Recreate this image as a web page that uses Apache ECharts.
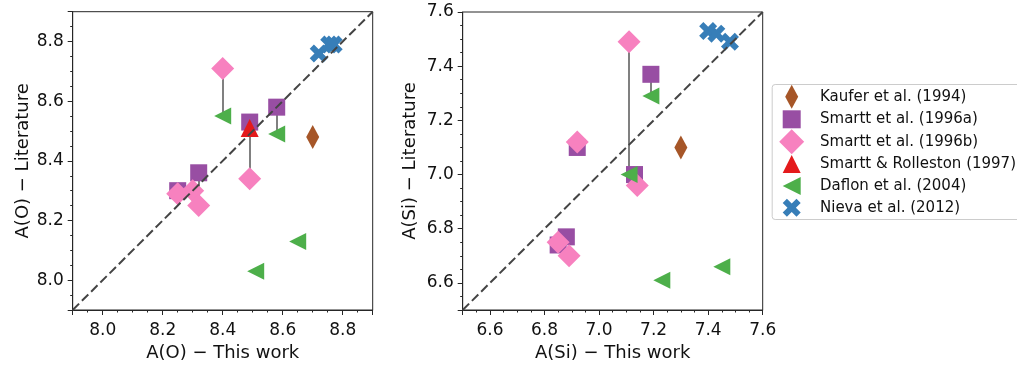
<!DOCTYPE html>
<html>
<head>
<meta charset="utf-8">
<script src="https://cdn.jsdelivr.net/npm/echarts@6/dist/echarts.min.js"></script>
<style>
  html, body { margin: 0; padding: 0; background: #fff; }
  #chart { width: 1017px; height: 367px; }
</style>
</head>
<body>
<div id="chart"></div>
<script>
// Oxygen abundances, pairs of [this work, literature]
const oRange = [7.9, 8.9];
const oKaufer = [[8.70, 8.48]];
const oSmarttA = [[8.25, 8.30], [8.32, 8.36], [8.49, 8.53], [8.58, 8.58]];
const oSmarttB = [[8.40, 8.71], [8.49, 8.34], [8.25, 8.29], [8.30, 8.30], [8.32, 8.25]];
const oSmarttRolleston = [[8.49, 8.51]];
const oDaflon = [[8.40, 8.55], [8.58, 8.49], [8.65, 8.13], [8.51, 8.03]];
const oNieva = [[8.72, 8.76], [8.755, 8.79], [8.77, 8.79]];
// Stars with two literature values: [this work, literature 1, literature 2]
const oLinks = [[8.40, 8.71, 8.55], [8.58, 8.58, 8.49], [8.49, 8.53, 8.34], [8.32, 8.36, 8.25]];

// Silicon abundances, pairs of [this work, literature]
const siRange = [6.5, 7.6];
const siKaufer = [[7.30, 7.10]];
const siSmarttA = [[6.85, 6.74], [6.88, 6.77], [6.92, 7.10], [7.13, 7.00], [7.19, 7.37]];
const siSmarttB = [[7.11, 7.49], [6.92, 7.12], [7.14, 6.96], [6.85, 6.75], [6.89, 6.70]];
const siSmarttRolleston = [];
const siDaflon = [[7.19, 7.29], [7.11, 7.00], [7.23, 6.61], [7.45, 6.66]];
const siNieva = [[7.40, 7.53], [7.43, 7.52], [7.48, 7.49]];
const siLinks = [[7.11, 7.49, 7.00], [7.19, 7.37, 7.29]];

const studyNames = ['Kaufer et al. (1994)', 'Smartt et al. (1996a)', 'Smartt et al. (1996b)',
  'Smartt & Rolleston (1997)', 'Daflon et al. (2004)', 'Nieva et al. (2012)'];
const tickStep = 0.2;
const minorStep = 0.05;

const FONT = 'DejaVu Sans';
const INK = '#262626';
const X_PATH = 'path://M0,2.8L2.8,0L6,3.2L9.2,0L12,2.8L8.8,6L12,9.2L9.2,12L6,8.8L2.8,12L0,9.2L3.2,6Z';

// marker look for each study (iconW/iconH: legend icon size)
const styles = [
  { color: '#a65628', symbol: 'diamond', size: [13, 24], icon: 'path://M0,-12L6.5,0L0,12L-6.5,0Z', iconW: 13, iconH: 24 },
  { color: '#984ea3', symbol: 'rect', size: 17, icon: 'path://M0,0H10V10H0Z', iconW: 18, iconH: 18 },
  { color: '#f781bf', symbol: 'diamond', size: 23, icon: 'path://M0,-1L1,0L0,1L-1,0Z', iconW: 25, iconH: 25 },
  { color: '#e41a1c', symbol: 'triangle', size: 18, icon: 'path://M0,-1L1,1L-1,1Z', iconW: 18, iconH: 18 },
  { color: '#4daf4a', symbol: 'triangle', rotate: 90, size: 17, icon: 'path://M-1,0L1,-1L1,1Z', iconW: 18, iconH: 18 },
  { color: '#377eb8', symbol: X_PATH, size: 18, icon: X_PATH, iconW: 18, iconH: 18 }
];

const panels = [
  { range: oRange, sets: [oKaufer, oSmarttA, oSmarttB, oSmarttRolleston, oDaflon, oNieva], links: oLinks,
    xName: 'A(O) \u2212 This work', yName: 'A(O) \u2212 Literature', yGap: 37 },
  { range: siRange, sets: [siKaufer, siSmarttA, siSmarttB, siSmarttRolleston, siDaflon, siNieva], links: siLinks,
    xName: 'A(Si) \u2212 This work', yName: 'A(Si) \u2212 Literature', yGap: 43 }
];

const grids = [
  { left: 72.7, top: 11.7, width: 300, height: 300 },
  { left: 462.7, top: 12, width: 300, height: 300 }
].map(g => Object.assign(g, { show: true, borderColor: INK, borderWidth: 1, backgroundColor: 'transparent' }));

function majorLabel(v) {
  const k = v / tickStep;
  return Math.abs(k - Math.round(k)) < 1e-6 ? v.toFixed(1) : '';
}

const xAxes = [], yAxes = [], series = [];
panels.forEach((p, i) => {
  const common = { type: 'value', gridIndex: i, min: p.range[0], max: p.range[1], splitLine: { show: false } };
  // major ticks and labels
  xAxes.push(Object.assign({}, common, {
    position: 'bottom', splitNumber: 5,
    axisLine: { show: true, lineStyle: { color: INK, width: 1 } },
    axisTick: { show: true, length: 5, lineStyle: { color: INK, width: 1 } },
    axisLabel: { formatter: majorLabel, fontFamily: FONT, fontSize: 17, color: '#111', margin: 12 },
    name: p.xName, nameLocation: 'middle', nameGap: 34,
    nameTextStyle: { fontFamily: FONT, fontSize: 18, color: '#111' }
  }));
  // minor ticks
  xAxes.push(Object.assign({}, common, {
    position: 'bottom', interval: minorStep,
    axisLine: { show: false },
    axisTick: { show: true, length: 2.5, lineStyle: { color: INK, width: 1 } },
    axisLabel: { show: false }
  }));
  yAxes.push(Object.assign({}, common, {
    position: 'left', splitNumber: 5,
    axisLine: { show: true, lineStyle: { color: INK, width: 1 } },
    axisTick: { show: true, length: 5, lineStyle: { color: INK, width: 1 } },
    axisLabel: { formatter: majorLabel, fontFamily: FONT, fontSize: 17, color: '#111', margin: 9 },
    name: p.yName, nameLocation: 'middle', nameGap: p.yGap, nameRotate: 90,
    nameTextStyle: { fontFamily: FONT, fontSize: 18, color: '#111' }
  }));
  yAxes.push(Object.assign({}, common, {
    position: 'left', interval: minorStep,
    axisLine: { show: false },
    axisTick: { show: true, length: 2.5, lineStyle: { color: INK, width: 1 } },
    axisLabel: { show: false }
  }));

  const xi = 2 * i, yi = 2 * i;
  // grey connectors between two literature values of one star
  series.push({
    type: 'lines', coordinateSystem: 'cartesian2d', xAxisIndex: xi, yAxisIndex: yi,
    silent: true, z: 1,
    lineStyle: { color: '#808080', width: 2, opacity: 1 },
    data: p.links.map(([x, a, b]) => ({ coords: [[x, a], [x, b]] }))
  });
  p.sets.forEach((data, k) => {
    const s = styles[k];
    series.push({
      type: 'scatter', name: studyNames[k], xAxisIndex: xi, yAxisIndex: yi, z: 3,
      symbol: s.symbol, symbolSize: s.size, symbolRotate: s.rotate || 0,
      itemStyle: { color: s.color, opacity: 1 },
      emphasis: { disabled: true },
      data: data
    });
  });
  // one-to-one line
  series.push({
    type: 'line', xAxisIndex: xi, yAxisIndex: yi, z: 5, silent: true,
    symbol: 'none',
    lineStyle: { color: '#444', width: 2, type: [9, 4] },
    data: p.range.map(v => [v, v])
  });
});

// legend: one row per study; the row box starts at the icon's left edge
const rowCenters = [96.7, 119.3, 141.7, 164, 186, 207.8];
const iconCenterX = 791.7, textStartX = 820;
const iconBoxW = 2 * (textStartX - 5 - iconCenterX);
const legends = studyNames.map((name, k) => ({
  data: [{ name: name, icon: styles[k].icon }],
  left: iconCenterX - styles[k].iconW / 2,
  top: rowCenters[k] - styles[k].iconH / 2,
  padding: 0,
  itemWidth: iconBoxW,
  itemHeight: styles[k].iconH,
  symbolKeepAspect: true,
  selectedMode: false,
  itemStyle: { color: styles[k].color },
  textStyle: { fontFamily: FONT, fontSize: 15, color: '#111' }
}));

const chart = echarts.init(document.getElementById('chart'), null, { renderer: 'canvas' });
chart.setOption({
  animation: false,
  backgroundColor: '#fff',
  grid: grids,
  xAxis: xAxes,
  yAxis: yAxes,
  legend: legends,
  graphic: [{
    type: 'rect', left: 771.7, top: 84, z: 0,
    shape: { width: 252, height: 135, r: 3 },
    style: { fill: '#fff', stroke: '#cccccc', lineWidth: 1 }
  }],
  series: series
});
</script>
</body>
</html>
